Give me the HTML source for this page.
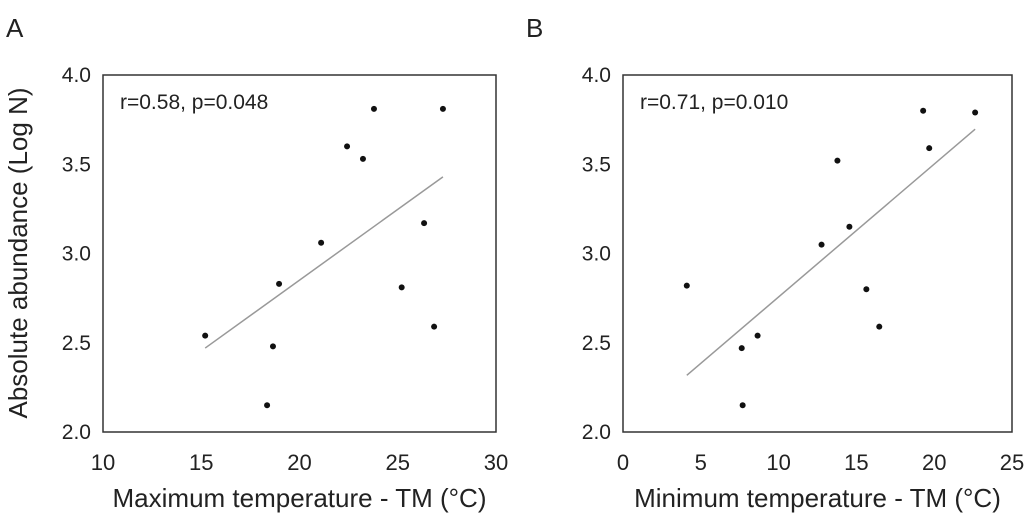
<!DOCTYPE html>
<html><head><meta charset="utf-8"><style>
body{margin:0;background:#fff;width:1024px;height:518px;overflow:hidden;font-family:"Liberation Sans",sans-serif}
svg text{font-family:"Liberation Sans",sans-serif;fill:#222}
</style></head><body>
<svg id="chart" width="1024" height="518"></svg>
<script>
const tmaxA = [15.2,18.65,18.35,18.96,21.1,22.42,23.23,23.79,25.2,26.34,26.85,27.3];
const abundA = [2.54,2.48,2.15,2.83,3.06,3.60,3.53,3.81,2.81,3.17,2.59,3.81];
const tminB = [4.1,7.63,7.69,8.65,12.76,13.78,14.55,15.64,16.47,19.29,19.68,22.63];
const abundB = [2.82,2.47,2.15,2.54,3.05,3.52,3.15,2.80,2.59,3.80,3.59,3.79];
const xTicksA = [10,15,20,25,30];
const xTicksB = [0,5,10,15,20,25];
const yTicks = ["2.0","2.5","3.0","3.5","4.0"];
const statsA = "r=0.58, p=0.048";
const statsB = "r=0.71, p=0.010";

const svg = document.getElementById('chart');
const NS = 'http://www.w3.org/2000/svg';
function mk(tag, attrs, parent){const e=document.createElementNS(NS,tag);for(const k in attrs)e.setAttribute(k,attrs[k]);(parent||svg).appendChild(e);return e;}
const yTop=75, yBot=432;
const ys = v => yBot - (v-2.0)/(4.0-2.0)*(yBot-yTop);

function panel(id, left, right, xmin, xmax, xTicks, xs, ysv, stats, xtitle, letter, letterX){
  const g = mk('g',{});
  
  
  const sx = v => left + (v-xmin)/(xmax-xmin)*(right-left);
  const box = mk('rect',{x:left,y:yTop,width:right-left,height:yBot-yTop,fill:'none',stroke:'#333','stroke-width':1.5},g);
  
  
  const L = mk('text',{x:letterX,y:37,'font-size':26},g); L.textContent=letter;
  
  
  yTicks.forEach(t=>{
    const e = mk('text',{x:left-12,y:ys(parseFloat(t))+7,'font-size':21,'text-anchor':'end'},g); e.textContent=t;
    
    
  });
  xTicks.forEach(t=>{
    const e = mk('text',{x:sx(t),y:470,'font-size':22,'text-anchor':'middle'},g); e.textContent=t;
    
    
  });
  const xt = mk('text',{x:(left+right)/2,y:507,'font-size':26,'text-anchor':'middle'},g); xt.textContent=xtitle;
  
  
  const st = mk('text',{x:left+17,y:109,'font-size':21},g); st.textContent=stats;
  
  
  const n=xs.length; let mx=0,my=0; for(let i=0;i<n;i++){mx+=xs[i];my+=ysv[i];} mx/=n; my/=n;
  let sxy=0,sxx=0; for(let i=0;i<n;i++){sxy+=(xs[i]-mx)*(ysv[i]-my);sxx+=(xs[i]-mx)**2;}
  const b=sxy/sxx, a=my-b*mx; const x0=Math.min(...xs), x1=Math.max(...xs);
  const ln = mk('line',{x1:sx(x0),y1:ys(a+b*x0),x2:sx(x1),y2:ys(a+b*x1),stroke:'#999','stroke-width':1.5},g);
  
  
  xs.forEach((v,i)=>{
    const c = mk('circle',{cx:sx(v),cy:ys(ysv[i]),r:3,fill:'#111'},g);
    
    
  });
}
panel('a',103,496,10,30,xTicksA,tmaxA,abundA,statsA,'Maximum temperature - TM (°C)','A',6);
panel('b',623,1012,0,25,xTicksB,tminB,abundB,statsB,'Minimum temperature - TM (°C)','B',526);
const yt = mk('text',{x:0,y:0,'font-size':26,'text-anchor':'middle',transform:'translate(27,253) rotate(-90)'});
yt.textContent='Absolute abundance (Log N)';


</script>
</body></html>
